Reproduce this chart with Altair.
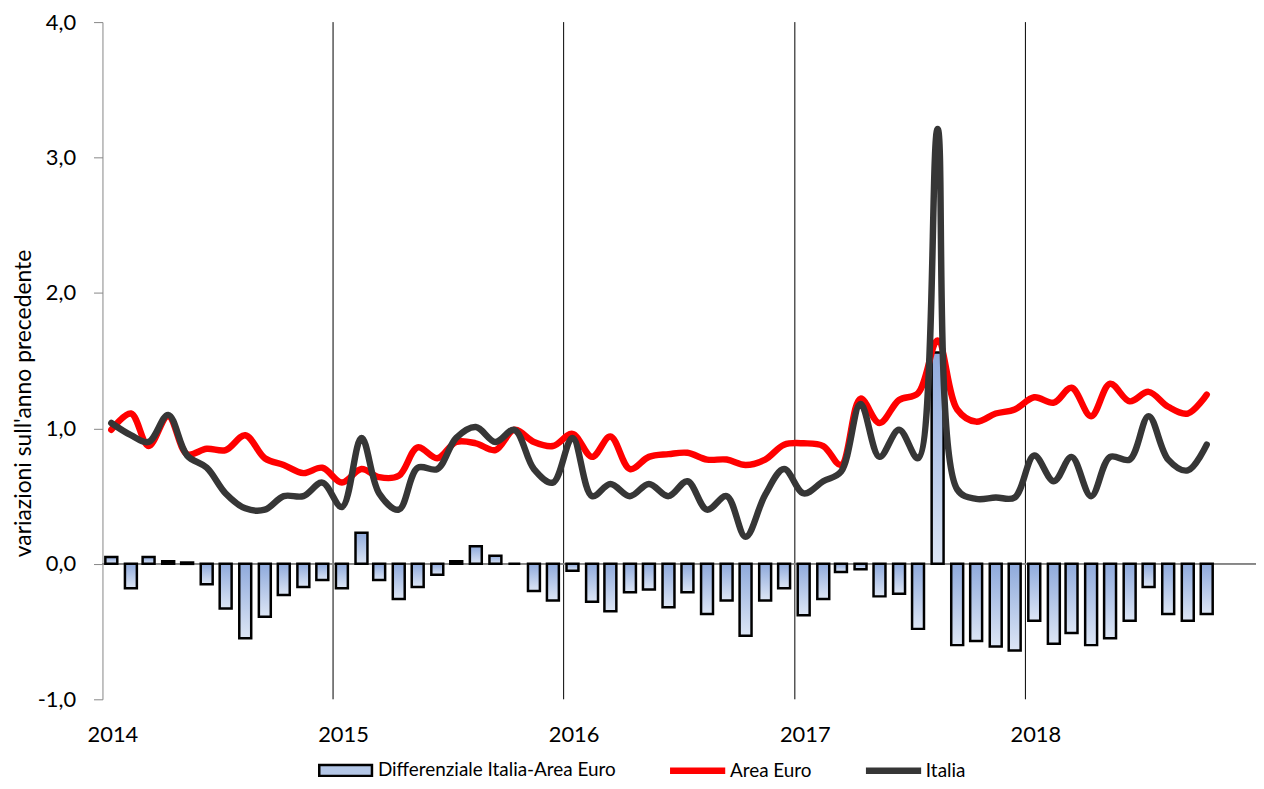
import altair as alt
import pandas as pd

# ---- data ----
mesi = pd.date_range("2014-01-01", periods=58, freq="MS") + pd.Timedelta(days=14)

differenziale = [0.05, -0.18, 0.05, 0.02, 0.01, -0.15, -0.33, -0.55, -0.39, -0.23, -0.17, -0.12,
                 -0.18, 0.23, -0.12, -0.26, -0.17, -0.08, 0.02, 0.13, 0.06, 0.0, -0.20, -0.27,
                 -0.05, -0.28, -0.35, -0.21, -0.19, -0.32, -0.21, -0.37, -0.27, -0.53, -0.27, -0.18,
                 -0.38, -0.26, -0.06, -0.04, -0.24, -0.22, -0.48, 1.56, -0.60, -0.57, -0.61, -0.64,
                 -0.42, -0.59, -0.51, -0.60, -0.55, -0.42, -0.17, -0.37, -0.42, -0.37]

area_euro = [0.99, 1.11, 0.87, 1.09, 0.81, 0.85, 0.84, 0.95, 0.78, 0.73, 0.67, 0.71,
             0.60, 0.70, 0.64, 0.65, 0.86, 0.78, 0.90, 0.89, 0.84, 0.99, 0.90, 0.87,
             0.96, 0.79, 0.94, 0.70, 0.79, 0.81, 0.82, 0.77, 0.77, 0.73, 0.77, 0.88,
             0.89, 0.87, 0.73, 1.22, 1.04, 1.21, 1.26, 1.65, 1.14, 1.05, 1.11, 1.14,
             1.23, 1.19, 1.30, 1.09, 1.33, 1.20, 1.27, 1.16, 1.11, 1.25]

italia = [1.04, 0.95, 0.90, 1.10, 0.80, 0.71, 0.52, 0.41, 0.40, 0.50, 0.50, 0.60,
          0.42, 0.93, 0.52, 0.40, 0.71, 0.70, 0.93, 1.01, 0.90, 0.99, 0.70, 0.60,
          0.93, 0.50, 0.59, 0.50, 0.59, 0.50, 0.61, 0.40, 0.50, 0.20, 0.51, 0.70,
          0.52, 0.61, 0.68, 1.18, 0.79, 0.99, 0.78, 3.21, 0.55, 0.48, 0.49, 0.49,
          0.80, 0.61, 0.79, 0.50, 0.79, 0.77, 1.09, 0.77, 0.69, 0.88]

anni_griglia = [2015, 2016, 2017, 2018]
anni_etichette = [2014, 2015, 2016, 2017, 2018]
y_ticks = [-1, 0, 1, 2, 3, 4]
serie = ["Differenziale Italia-Area Euro", "Area Euro", "Italia"]

df_bar = pd.DataFrame({"data": mesi, "v": differenziale})
df_ae = pd.DataFrame({"data": mesi, "v": area_euro})
df_it = pd.DataFrame({"data": mesi, "v": italia})
df_grid = pd.DataFrame({"data": pd.to_datetime([f"{a}-01-01" for a in anni_griglia])})
df_leg = pd.DataFrame({"serie": serie})

FONT = "Lato"

x_scale = alt.Scale(domain=[alt.DateTime(year=2014, month=1, date=1),
                            alt.DateTime(year=2019, month=1, date=1)], padding=0)
x_axis = alt.Axis(values=[alt.DateTime(year=a, month=1, date=1) for a in anni_etichette],
                  format="%Y", grid=False, domain=False, ticks=False, tickSize=0,
                  labelPadding=25, labelOffset=10, labelFlush=False,
                  labelFont=FONT, labelFontSize=22, labelColor="black", title=None)
x_enc = alt.X("data:T", scale=x_scale, axis=x_axis)

y_scale = alt.Scale(domain=[-1, 4], nice=False, zero=False)
y_axis = alt.Axis(values=y_ticks, grid=False,
                  labelExpr="(datum.value < 0 ? '-' : '') + replace(format(abs(datum.value), '.1f'), '.', ',')",
                  domainColor="#868686", tickColor="#868686", tickSize=9, labelPadding=18,
                  labelFont=FONT, labelFontSize=22, labelColor="black",
                  title="variazioni sull'anno precedente", titleFont=FONT, titleFontSize=23,
                  titleFontWeight="normal", titleColor="black", titleAngle=270,
                  titleAlign="center", titleBaseline="middle", titleX=-79, titleY=383)
y_enc = alt.Y("v:Q", scale=y_scale, axis=y_axis)

grid = alt.Chart(df_grid).mark_rule(color="black", strokeWidth=1).encode(x=x_enc)

zero = alt.Chart(df_grid).mark_rule(color="#868686", strokeWidth=1.2).encode(
    y=alt.datum(0, scale=y_scale, axis=y_axis))

gradient = alt.LinearGradient(
    gradient="linear",
    stops=[alt.GradientStop(offset=0, color="#8faadc"),
           alt.GradientStop(offset=1, color="#dde6f5")],
    x1=0, x2=0, y1=0, y2=1)

bars = alt.Chart(df_bar).mark_bar(width=12, fill=gradient, stroke="black",
                                  strokeWidth=2.5).encode(x=x_enc, y=y_enc)

line_ae = alt.Chart(df_ae).mark_line(color="#ff0000", strokeWidth=6.5, interpolate="catmull-rom",
                                     strokeCap="round", strokeJoin="round").encode(x=x_enc, y=y_enc)
line_it = alt.Chart(df_it).mark_line(color="#363636", strokeWidth=6.5, interpolate="catmull-rom",
                                     strokeCap="round", strokeJoin="round").encode(x=x_enc, y=y_enc)

# legend symbols: wide rectangles drawn on a small (20px) symbol box
shape_bar = "M-2.65,-0.55H2.65V0.55H-2.65Z"
shape_line = "M-2.65,-0.2H2.65V0.2H-2.65Z"
legend = alt.Legend(orient="none", legendX=233, legendY=741, direction="horizontal",
                    title=None, padding=0, symbolSize=400, symbolStrokeWidth=2.5,
                    labelFont=FONT, labelFontSize=19, labelColor="black", labelOffset=21,
                    labelLimit=0, columnPadding=50)
carrier = alt.Chart(df_leg).mark_point(filled=True, opacity=1).encode(
    fill=alt.Fill("serie:N", scale=alt.Scale(domain=serie, range=["#b4c7e7", "#ff0000", "#363636"]),
                  legend=legend),
    stroke=alt.Stroke("serie:N", scale=alt.Scale(domain=serie, range=["black", "#ff0000", "#363636"]),
                      legend=legend),
    shape=alt.Shape("serie:N", scale=alt.Scale(domain=serie, range=[shape_bar, shape_line, shape_line]),
                    legend=legend),
).transform_filter("false")

chart = alt.layer(grid, zero, bars, line_ae, line_it, carrier).properties(
    width=1160, height=681,
    autosize=alt.AutoSizeParams(type="none"),
    padding={"left": 95, "top": 12, "right": 0, "bottom": 85},
    background="white",
).configure_view(strokeWidth=0)

chart.save("out.html", embed_options={"renderer": "svg", "actions": False})
